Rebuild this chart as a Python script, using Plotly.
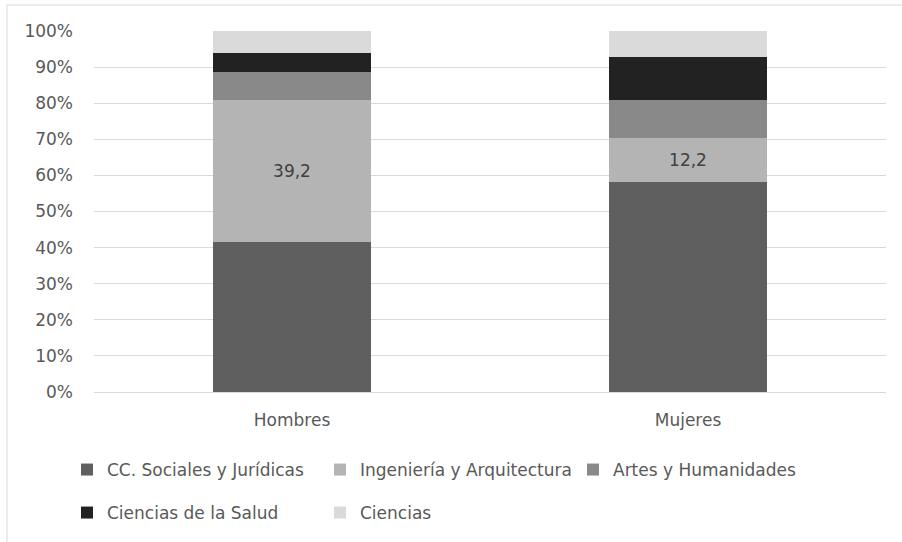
import plotly.graph_objects as go

categories = ["Hombres", "Mujeres"]
series_names = ["CC. Sociales y Jurídicas", "Ingeniería y Arquitectura", "Artes y Humanidades",
                "Ciencias de la Salud", "Ciencias"]
cc_sociales = [41.6, 58.3]
ingenieria = [39.2, 12.2]
artes = [7.9, 10.3]
salud = [5.3, 12.1]
ciencias = [6.0, 7.1]
y_ticks = [0, 10, 20, 30, 40, 50, 60, 70, 80, 90, 100]
y_tick_labels = [f"{v}%" for v in y_ticks]

values = [cc_sociales, ingenieria, artes, salud, ciencias]
colors = ["#5f5f5f", "#b4b4b4", "#898989", "#222222", "#dadada"]
legend_ids = ["legend", "legend", "legend", "legend2", "legend2"]
show_label = [False, True, False, False, False]

FONT = "DejaVu Sans"
FS = 17
TXT = "#595959"

W, H = 902, 542
L, R, T, B = 94, 16, 31, 150
pw, ph = W - L - R, H - T - B


def px_x(px):
    return (px - L) / pw


def px_y(py):
    return (H - B - py) / ph


fig = go.Figure()
for name, vals, col, lg, lab in zip(series_names, values, colors, legend_ids, show_label):
    kw = {}
    if lab:
        kw = dict(texttemplate="%{y:.1f}", textposition="inside", insidetextanchor="middle",
                  textangle=0, constraintext="none",
                  insidetextfont=dict(family=FONT, size=FS, color="#404040"))
    fig.add_trace(go.Bar(x=categories, y=vals, name=name, legend=lg,
                         marker=dict(color=col, line=dict(width=0)), width=0.4, **kw))

fig.update_layout(
    width=W, height=H, barmode="stack", separators=",.",
    margin=dict(l=L, r=R, t=T, b=B, autoexpand=False),
    paper_bgcolor="white", plot_bgcolor="white",
    font=dict(family=FONT, size=FS, color=TXT),
    legend=dict(orientation="h", x=px_x(67), xanchor="left", y=px_y(470), yanchor="middle",
                entrywidth=208, entrywidthmode="pixels", traceorder="normal",
                font=dict(family=FONT, size=FS, color=TXT), bgcolor="rgba(0,0,0,0)"),
    legend2=dict(orientation="h", x=px_x(67), xanchor="left", y=px_y(513), yanchor="middle",
                 entrywidth=208, entrywidthmode="pixels", traceorder="normal",
                 font=dict(family=FONT, size=FS, color=TXT), bgcolor="rgba(0,0,0,0)"),
    showlegend=True,
    xaxis=dict(showgrid=False, showline=True, linecolor="#d9d9d9", linewidth=1,
               ticks="", ticklabelstandoff=13, tickfont=dict(family=FONT, size=FS, color=TXT)),
    yaxis=dict(range=[0, 100], tickmode="array", tickvals=y_ticks, ticktext=y_tick_labels,
               showgrid=True, gridcolor="#d9d9d9", gridwidth=1, zeroline=False, showline=False,
               ticks="", ticklabelstandoff=20, tickfont=dict(family=FONT, size=FS, color=TXT)),
    shapes=[
        dict(type="line", xref="paper", yref="paper", x0=px_x(7), x1=px_x(902), y0=px_y(5), y1=px_y(5),
             line=dict(color="#d9d9d9", width=1)),
        dict(type="line", xref="paper", yref="paper", x0=px_x(7), x1=px_x(7), y0=px_y(5), y1=px_y(542),
             line=dict(color="#d9d9d9", width=1)),
    ],
)

fig.write_html("out.html")
